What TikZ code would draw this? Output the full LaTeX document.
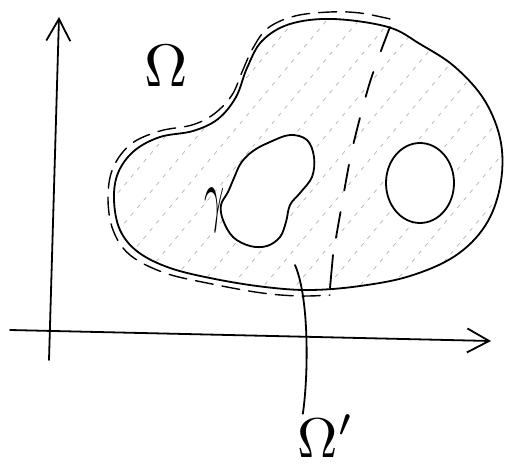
\documentclass[tikz,border=0pt]{standalone}
\usepackage{amsmath,amssymb}
\usetikzlibrary{arrows.meta}
\def\outline{plot[smooth cycle, tension=0.6] coordinates {(388,27) (333,19) (290,24) (262,41) (247,68) (236,97) (218,119) (193,131) (160,137) (134,151) (118,173) (114,200) (120,230) (138,252) (170,268) (215,279) (265,287) (310,290) (360,286) (410,276) (455,256) (485,226) (500,187) (501,143) (485,101) (455,67) (420,44)}}
\def\holeone{plot[smooth cycle, tension=0.6] coordinates {(290,135) (307,140) (314,157) (312,177) (300,193) (290,205) (286,222) (280,237) (267,246) (250,246) (233,237) (223,220) (221,205) (228,192) (234,178) (241,163) (253,151) (270,142)}}
\def\holetwo{(420,183) ellipse [x radius=34, y radius=40]}

\begin{document}
\begin{tikzpicture}[x=1pt, y=-1pt,
  pen/.style={line width=1.8pt, line cap=round, line join=round},
  axis/.style={pen, -{Straight Barb[length=22pt, width=24pt, line width=1.8pt]}},
  hatch/.style={gray!60, line width=0.7pt, dash pattern=on 4pt off 6pt},
  cut/.style={pen, dash pattern=on 26pt off 22pt},
  rim/.style={pen, line width=1.4pt, dash pattern=on 18pt off 9pt},
  lbl/.style={inner sep=0pt}]
\useasboundingbox (0,0) rectangle (506,471);
% hatching of the region
\begin{scope}
  \clip \outline;
  \foreach \s in {-260,-228,...,520}
    \draw[hatch] (\s,300) -- ++(-50:420);
\end{scope}
\fill[white] \holeone;
\fill[white] \holetwo;
% boundaries
\draw[pen] \outline;
\draw[pen] \holeone;
\draw[pen] \holetwo;
\draw[rim] plot[smooth, tension=0.6] coordinates {(390,19) (360,13) (330,12) (295,16) (268,28) (253,48) (242,72) (232,95) (214,114) (192,125) (160,131) (131,144) (113,168) (108,198) (113,230) (130,255) (165,273) (212,284) (262,293) (300,296) (330,295)};
\draw[cut] plot[smooth, tension=0.5] coordinates {(390,27) (370,82) (352,150) (340,215) (333,255)};
\draw[pen] (333,255) -- (330,288);
% axes
\draw[axis] (49,360) -- (59,17);
\draw[axis] (10,330) -- (491,341);
% labels
\node[lbl, scale=6] (om) at (166,66) {$\Omega$};
\node[lbl, xscale=3.5, yscale=7] (gam) at (215,210) {$\gamma$};
\node[lbl, scale=5.6] (omp) at (326,436) {$\Omega'$};
\coordinate (tip) at (295,265);
\draw[pen] ([xshift=6pt]omp.north west) .. controls (308,380) and (310,300) .. (tip);
\end{tikzpicture}
\end{document}
